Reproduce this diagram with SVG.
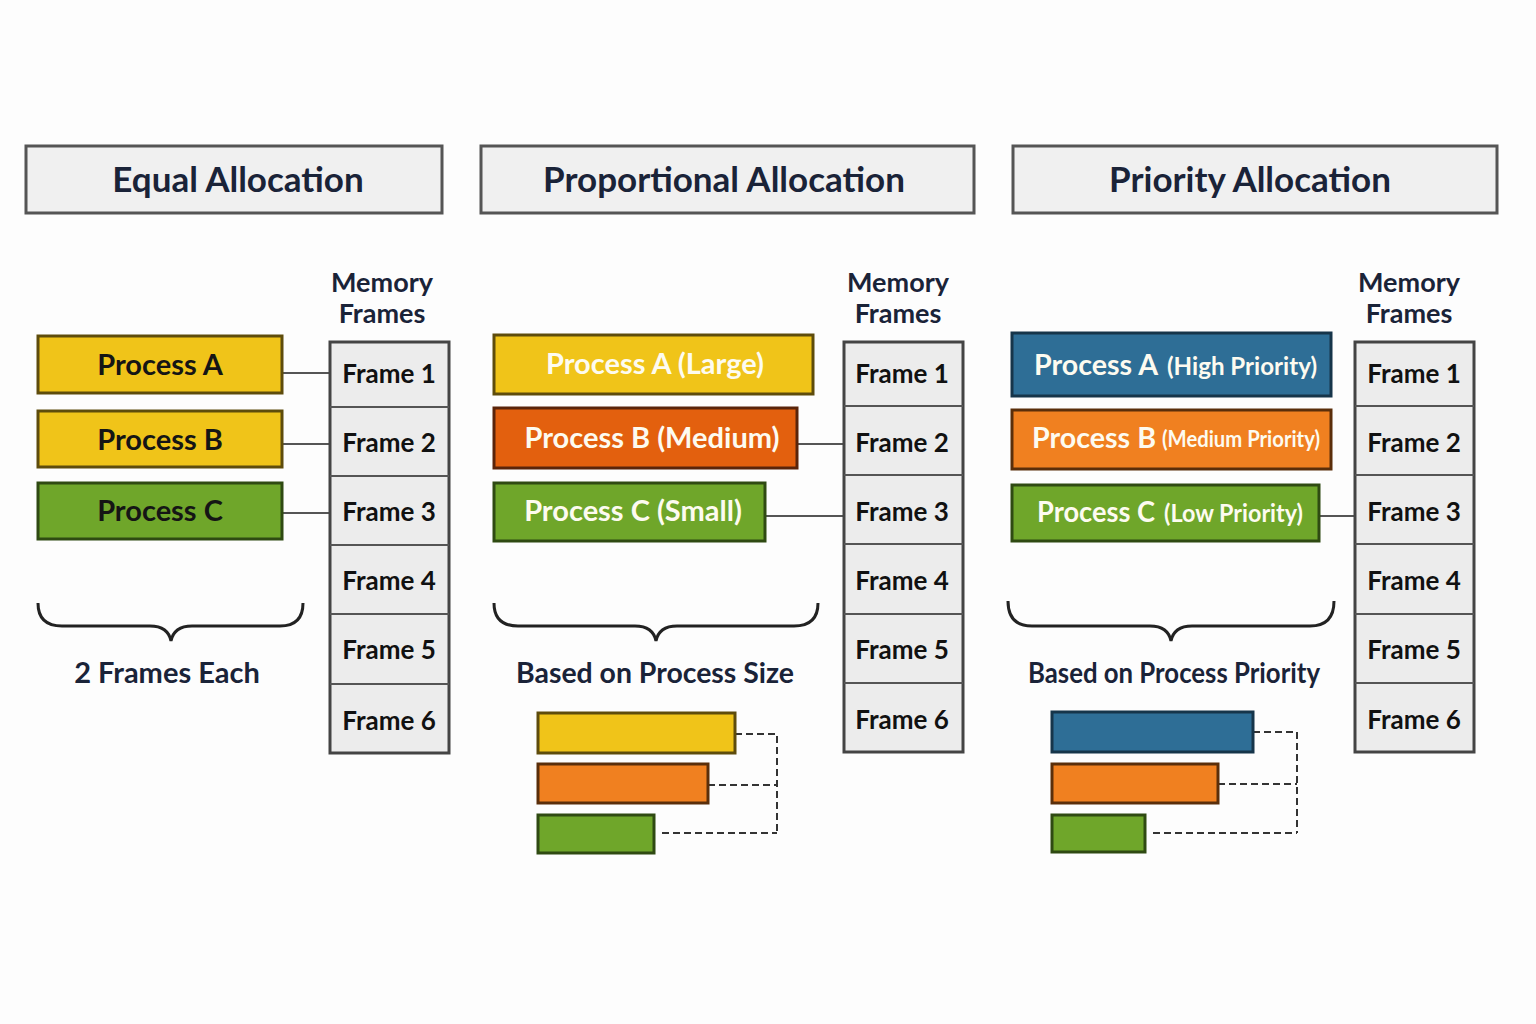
<svg xmlns="http://www.w3.org/2000/svg" width="1536" height="1024" viewBox="0 0 1536 1024">
<style>
.hdr{fill:#f0f0f0;stroke:#555;stroke-width:3}
.ht{font-family:Lato,"Open Sans",sans-serif;font-weight:700;font-size:35px;fill:#1a2338;text-anchor:middle}
.mf{font-family:Lato,"Open Sans",sans-serif;font-weight:700;font-size:27px;fill:#1a2338;text-anchor:middle}
.col{fill:#ececec;stroke:#444;stroke-width:3}
.div{stroke:#555;stroke-width:2}
.ft{font-family:Lato,"Open Sans",sans-serif;font-weight:700;font-size:26px;fill:#111;text-anchor:middle}
.pt{font-family:Lato,"Open Sans",sans-serif;font-weight:700;font-size:29px;text-anchor:middle}
.ps{font-family:Lato,"Open Sans",sans-serif;font-weight:700;font-size:29px}
.dk{fill:#151515}
.wt{fill:#fdfbf0}
.yel{fill:#f0c419;stroke:#5e4c0c;stroke-width:3}
.org{fill:#f08020;stroke:#5a2e0a;stroke-width:3}
.orgd{fill:#e3600e;stroke:#5a240a;stroke-width:3}
.grn{fill:#6fa62a;stroke:#2f4a12;stroke-width:3}
.blu{fill:#2e6e96;stroke:#16354a;stroke-width:3}
.conn{stroke:#555;stroke-width:2;fill:none}
.dash{stroke:#333;stroke-width:2;fill:none;stroke-dasharray:7 4}
.brace{stroke:#222;stroke-width:3;fill:none}
.lbl{font-family:Lato,"Open Sans",sans-serif;font-weight:700;font-size:29px;fill:#1a2338;text-anchor:middle}
</style>
<rect width="1536" height="1024" fill="#fdfdfd"/>

<g id="hdr-equal"><rect class="hdr" x="26" y="146" width="416" height="67"/><text class="ht" x="238" y="192">Equal Allocation</text></g>
<g id="hdr-prop"><rect class="hdr" x="481" y="146" width="493" height="67"/><text class="ht" x="724" y="192">Proportional Allocation</text></g>
<g id="hdr-prio"><rect class="hdr" x="1013" y="146" width="484" height="67"/><text class="ht" x="1250" y="192">Priority Allocation</text></g>

<g id="connectors">
<line class="conn" x1="282" y1="373" x2="330" y2="373"/>
<line class="conn" x1="282" y1="444" x2="330" y2="444"/>
<line class="conn" x1="282" y1="513" x2="330" y2="513"/>
<line class="conn" x1="797" y1="444" x2="844" y2="444"/>
<line class="conn" x1="765" y1="516" x2="844" y2="516"/>
<line class="conn" x1="1319" y1="516" x2="1355" y2="516"/>
<path class="dash" d="M735 734 H777 V833 M708 785 H777 M662 833 H777"/>
<path class="dash" d="M1253 732 H1297 V833 M1218 784 H1297 M1153 833 H1297"/>
</g>

<!-- Equal -->
<g id="mem-equal">
<text class="mf" x="382" y="292">Memory</text><text class="mf" x="382" y="323">Frames</text>
<rect class="col" x="330" y="342" width="119" height="411"/>
<line class="div" x1="330" y1="407" x2="449" y2="407"/><line class="div" x1="330" y1="476" x2="449" y2="476"/><line class="div" x1="330" y1="545" x2="449" y2="545"/><line class="div" x1="330" y1="614" x2="449" y2="614"/><line class="div" x1="330" y1="684" x2="449" y2="684"/>
<text class="ft" x="389" y="383">Frame 1</text><text class="ft" x="389" y="452">Frame 2</text><text class="ft" x="389" y="521">Frame 3</text><text class="ft" x="389" y="590">Frame 4</text><text class="ft" x="389" y="659">Frame 5</text><text class="ft" x="389" y="730">Frame 6</text>
</g>
<g id="eq-a"><rect class="yel" x="38" y="336" width="244" height="57"/><text class="pt dk" x="160" y="375">Process A</text></g>
<g id="eq-b"><rect class="yel" x="38" y="411" width="244" height="56"/><text class="pt dk" x="160" y="450">Process B</text></g>
<g id="eq-c"><rect class="grn" x="38" y="483" width="244" height="56"/><text class="pt dk" x="160" y="521">Process C</text></g>
<g id="eq-brace"><path class="brace" d="M38 603 Q38 626 62 626 H150 Q168 626 171 641 Q174 626 192 626 H280 Q303 626 303 603"/><text class="lbl" x="167" y="683">2 Frames Each</text></g>

<!-- Proportional -->
<g id="mem-prop">
<text class="mf" x="898" y="292">Memory</text><text class="mf" x="898" y="323">Frames</text>
<rect class="col" x="844" y="342" width="119" height="410"/>
<line class="div" x1="844" y1="406" x2="963" y2="406"/><line class="div" x1="844" y1="475" x2="963" y2="475"/><line class="div" x1="844" y1="544" x2="963" y2="544"/><line class="div" x1="844" y1="614" x2="963" y2="614"/><line class="div" x1="844" y1="683" x2="963" y2="683"/>
<text class="ft" x="902" y="383">Frame 1</text><text class="ft" x="902" y="452">Frame 2</text><text class="ft" x="902" y="521">Frame 3</text><text class="ft" x="902" y="590">Frame 4</text><text class="ft" x="902" y="659">Frame 5</text><text class="ft" x="902" y="729">Frame 6</text>
</g>
<g id="pr-a"><rect class="yel" x="494" y="335" width="319" height="59"/><text class="pt wt" x="655" y="374">Process A (Large)</text></g>
<g id="pr-b"><rect class="orgd" x="494" y="408" width="303" height="60"/><text class="pt wt" x="652" y="448">Process B (Medium)</text></g>
<g id="pr-c"><rect class="grn" x="494" y="483" width="271" height="58"/><text class="pt wt" x="633" y="521">Process C (Small)</text></g>
<g id="pr-brace"><path class="brace" d="M494 603 Q494 626 518 626 H635 Q653 626 656 641 Q659 626 677 626 H794 Q818 626 818 603"/><text class="lbl" x="655" y="683" textLength="278" lengthAdjust="spacingAndGlyphs">Based on Process Size</text></g>
<g id="pr-bars">
<rect class="yel" x="538" y="713" width="197" height="40"/>
<rect class="org" x="538" y="764" width="170" height="39"/>
<rect class="grn" x="538" y="815" width="116" height="38"/>
</g>

<!-- Priority -->
<g id="mem-prio">
<text class="mf" x="1409" y="292">Memory</text><text class="mf" x="1409" y="323">Frames</text>
<rect class="col" x="1355" y="342" width="119" height="410"/>
<line class="div" x1="1355" y1="406" x2="1474" y2="406"/><line class="div" x1="1355" y1="475" x2="1474" y2="475"/><line class="div" x1="1355" y1="544" x2="1474" y2="544"/><line class="div" x1="1355" y1="614" x2="1474" y2="614"/><line class="div" x1="1355" y1="683" x2="1474" y2="683"/>
<text class="ft" x="1414" y="383">Frame 1</text><text class="ft" x="1414" y="452">Frame 2</text><text class="ft" x="1414" y="521">Frame 3</text><text class="ft" x="1414" y="590">Frame 4</text><text class="ft" x="1414" y="659">Frame 5</text><text class="ft" x="1414" y="729">Frame 6</text>
</g>
<g id="pp-a"><rect class="blu" x="1012" y="333" width="319" height="63"/>
<text class="ps wt" x="1034" y="375" textLength="124" lengthAdjust="spacingAndGlyphs">Process A</text>
<text class="ps wt" x="1167" y="375" style="font-size:25px" textLength="150" lengthAdjust="spacingAndGlyphs">(High Priority)</text></g>
<g id="pp-b"><rect class="org" x="1012" y="410" width="319" height="59"/>
<text class="ps wt" x="1032" y="448" textLength="124" lengthAdjust="spacingAndGlyphs">Process B</text>
<text class="ps wt" x="1162" y="447" style="font-size:23px" textLength="158" lengthAdjust="spacingAndGlyphs">(Medium Priority)</text></g>
<g id="pp-c"><rect class="grn" x="1012" y="485" width="307" height="56"/>
<text class="ps wt" x="1037" y="522" textLength="118" lengthAdjust="spacingAndGlyphs">Process C</text>
<text class="ps wt" x="1164" y="522" style="font-size:25px" textLength="139" lengthAdjust="spacingAndGlyphs">(Low Priority)</text></g>
<g id="pp-brace"><path class="brace" d="M1008 601 Q1008 626 1032 626 H1150 Q1168 626 1171 641 Q1174 626 1192 626 H1310 Q1334 626 1334 601"/><text class="lbl" x="1174" y="683" textLength="292" lengthAdjust="spacingAndGlyphs">Based on Process Priority</text></g>
<g id="pp-bars">
<rect class="blu" x="1052" y="712" width="201" height="40"/>
<rect class="org" x="1052" y="764" width="166" height="39"/>
<rect class="grn" x="1052" y="815" width="93" height="37"/>
</g>
</svg>
